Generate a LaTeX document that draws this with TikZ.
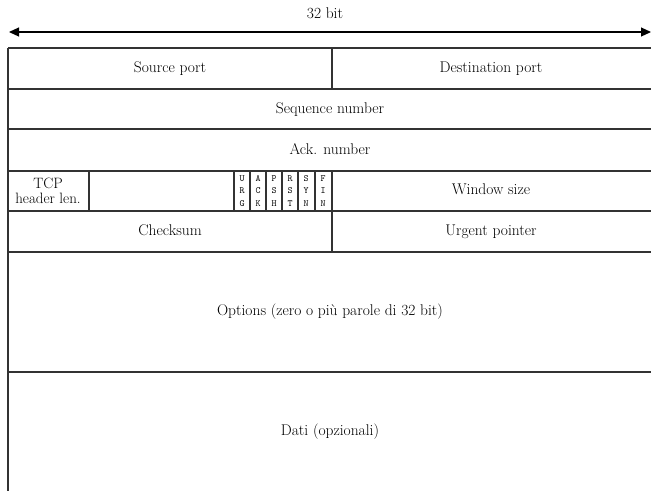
\documentclass[tikz,border=0pt]{standalone}
\usetikzlibrary{arrows.meta}

\tikzset{
  campo/.style={font=\fontsize{15.5}{17}\selectfont, inner sep=0pt, text height=10.5pt, text depth=3pt},
  flag/.style={font=\fontsize{9.5}{12.5}\selectfont\ttfamily, align=center, inner sep=0pt},
  riga/.style={line width=1.1pt, black!80}
}

\begin{document}
\begin{tikzpicture}[x=1pt, y=-1pt]
    \useasboundingbox (0,0) rectangle (651,491);

    % freccia 32 bit
    \coordinate (sx) at (9,32);
    \coordinate (dx) at (651,32);
    \draw[line width=1.1pt, {Triangle[length=10pt,width=9pt]}-{Triangle[length=10pt,width=9pt]}] (sx) -- (dx);
    \node[campo] (bit) at (325,15) {32 bit};

    % righe orizzontali
    \foreach \y in {48, 89, 129, 171, 211, 252, 372}
        \draw[riga] (8,\y) -- (651,\y);

    % bordo sinistro
    \draw[riga] (8,48) -- (8,491);

    % divisori verticali
    \draw[riga] (332,48) -- (332,89);
    \draw[riga] (332,171) -- (332,252);
    \draw[riga] (89,171) -- (89,211);
    \foreach \x in {234, 250, 266, 282, 298, 315}
        \draw[riga] (\x,171) -- (\x,211);

    % campi
    \node[campo] (src) at (170,69) {Source port};
    \node[campo] (dst) at (491,69) {Destination port};
    \node[campo] (seq) at (330,110) {Sequence number};
    \node[campo] (ack) at (330,151) {Ack. number};
    \node[align=center, inner sep=0pt, font=\fontsize{15}{14.5}\selectfont] (hlen) at (48,191) {TCP\\header len.};
    \node[campo] (win) at (491,191) {Window size};
    \node[campo] (chk) at (170,232) {Checksum};
    \node[campo] (urg) at (491,232) {Urgent pointer};
    \node[campo] (opt) at (330,312) {Options (zero o più parole di 32 bit)};
    \node[campo] (dati) at (330,432) {Dati (opzionali)};

    % flag
    \foreach \x/\t [count=\i] in {242/U\\R\\G, 258/A\\C\\K, 274/P\\S\\H, 290/R\\S\\T, 306/S\\Y\\N, 323/F\\I\\N}
        \node[flag] (f\i) at (\x,191) {\t};
\end{tikzpicture}
\end{document}
